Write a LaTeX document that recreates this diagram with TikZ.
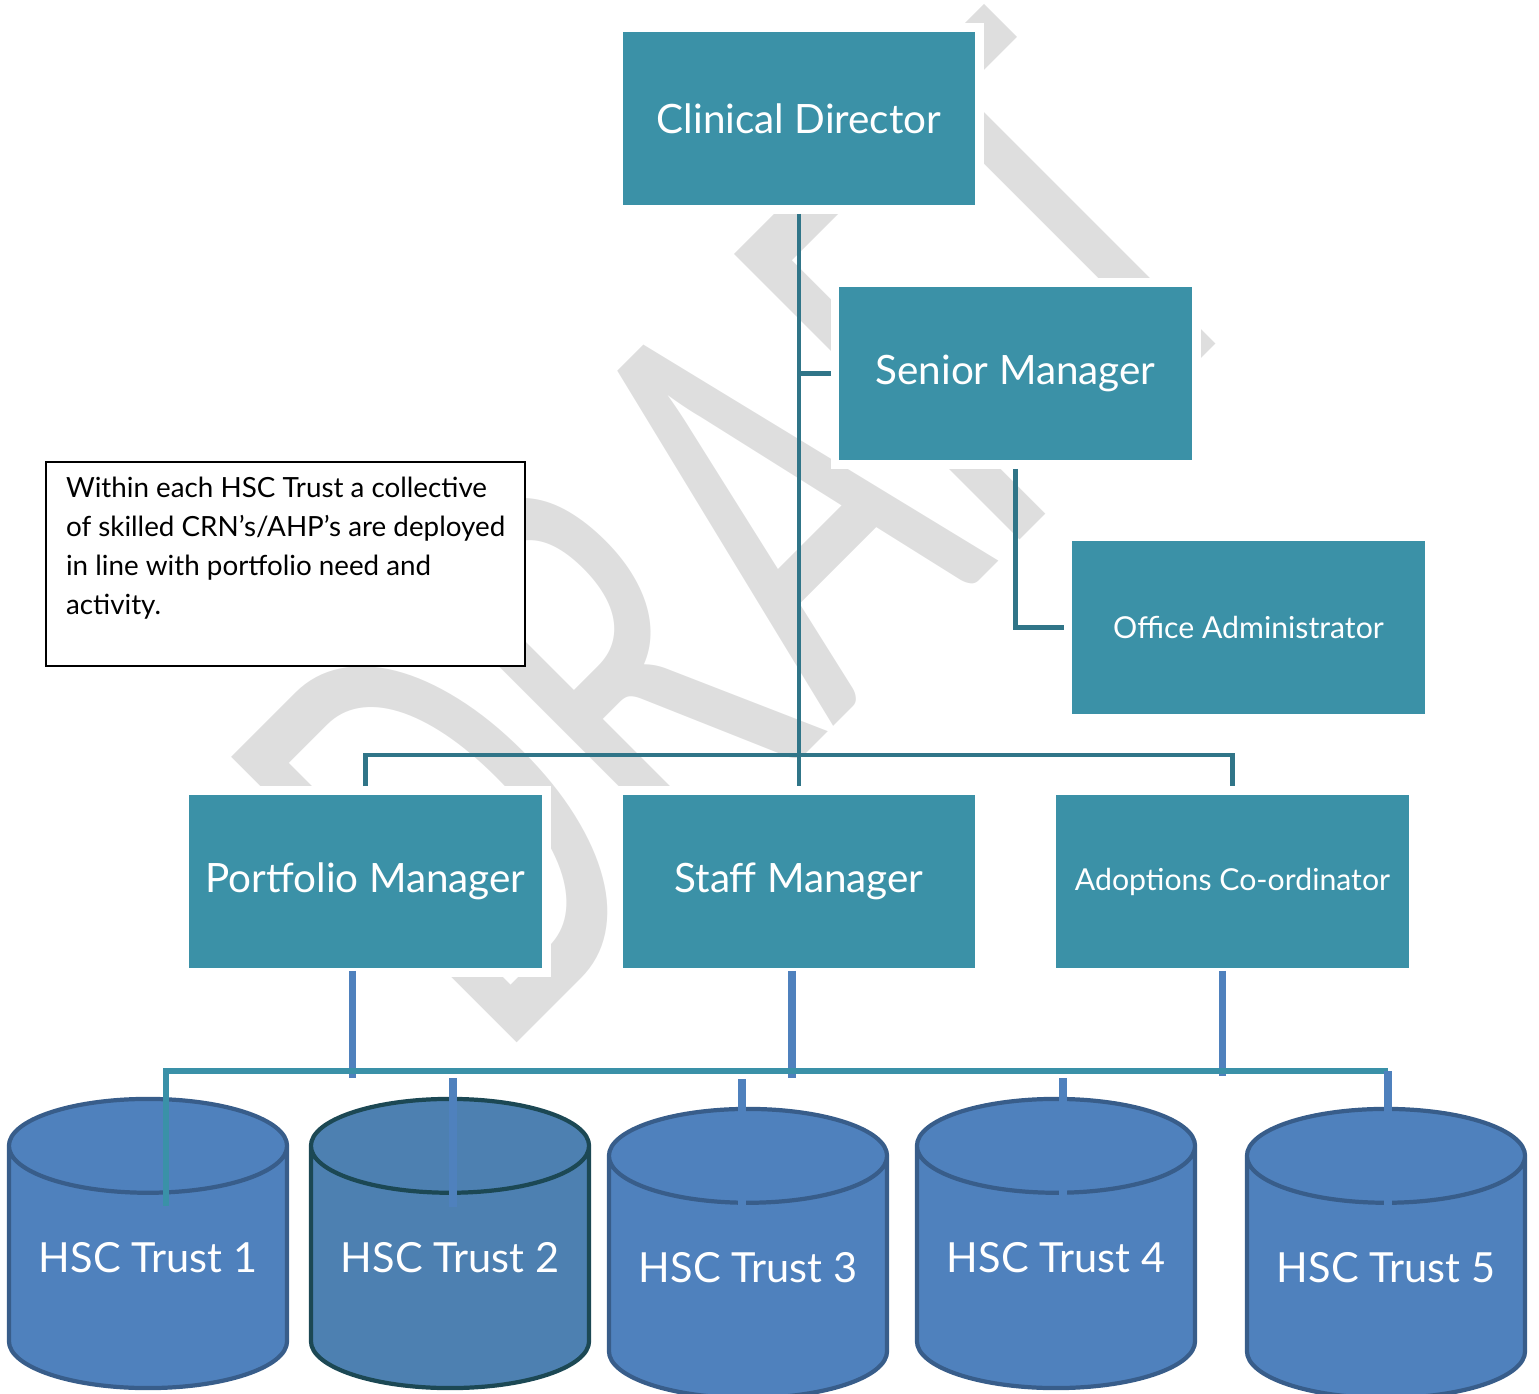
\documentclass[tikz,border=0pt]{standalone}
\usepackage{fontspec}
\setmainfont{Lato}
\newfontfamily\wmfont{Carlito}
\usetikzlibrary{shapes.geometric}

\definecolor{boxteal}{RGB}{59,145,167}
\definecolor{linkteal}{RGB}{48,117,136}
\definecolor{busteal}{RGB}{58,145,168}
\definecolor{trustblue}{RGB}{79,129,189}
\definecolor{trustedge}{RGB}{56,93,138}
\definecolor{trusttwo}{RGB}{77,128,177}
\definecolor{trusttwoedge}{RGB}{28,72,84}
\definecolor{wmgray}{RGB}{222,222,222}

\tikzset{
  role/.style={rectangle, fill=boxteal, draw=white, line width=2.5pt,
    minimum width=3.61cm, minimum height=1.82cm, text=white,
    font=\fontsize{11.5}{13}\selectfont},
  smallrole/.style={role, font=\fontsize{8.6}{10}\selectfont},
  trust/.style={cylinder, shape border rotate=90, aspect=0.43,
    draw=trustedge, line width=1.2pt, fill=trustblue,
    minimum width=2.78cm, minimum height=2.89cm, inner sep=0pt,
    anchor=shape center, text height=0.3cm, text depth=0.22cm,
    text=white, font=\fontsize{11.8}{13}\selectfont},
  notebox/.style={rectangle, draw=black, line width=0.6pt, fill=white,
    inner xsep=0.2cm, inner ysep=0.15cm,
    font=\fontsize{7.9}{11.1}\selectfont},
  watermark/.style={text=wmgray, inner sep=0pt,
    font=\wmfont\fontsize{179}{180}\selectfont},
  orglink/.style={draw=linkteal, line width=1.2pt},
  trustlink/.style={draw=trustblue, line width=2pt},
  buslink/.style={draw=busteal, line width=1.7pt}
}

\begin{document}
\begin{tikzpicture}[x=0.01cm, y=-0.01cm]
  \useasboundingbox (0,0) rectangle (1539,1394);

  % watermark behind everything
  \node[watermark, rotate=45, anchor=base west] (wm) at (497,1063)
    {\scalebox{0.65}[1]{DRAFT}};

  % management
  \node[role] (cd) at (799,118.5) {Clinical Director};
  \node[role] (sm) at (1015.5,373.5) {Senior Manager};
  \node[smallrole] (oa) at (1248.5,627.5) {Office Administrator};
  \node[role] (pm) at (365.5,881.5) {Portfolio Manager};
  \node[role] (sf) at (799,881.5) {Staff Manager};
  \node[smallrole] (ac) at (1232.5,881.5) {Adoptions Co-ordinator};

  \node[notebox, anchor=north west] (note) at (45,461)
    {\parbox[c][1.74cm][t]{4.39cm}{\raggedright
      Within each HSC Trust a collective\\
      of skilled CRN’s/AHP’s are deployed\\
      in line with portfolio need and\\
      activity.}};

  % trusts
  \node[trust] (t1) at (148,1243.5) {HSC Trust 1};
  \node[trust, fill=trusttwo, draw=trusttwoedge] (t2) at (450,1243.5) {HSC Trust 2};
  \node[trust] (t3) at (748,1253.5) {HSC Trust 3};
  \node[trust] (t4) at (1056,1243.5) {HSC Trust 4};
  \node[trust] (t5) at (1386,1253.5) {HSC Trust 5};

  \coordinate (bar) at (799,755);
  \coordinate (busR) at (1388,1071);

  % upper links
  \draw[orglink] (cd.south) -- (sf.north);
  \draw[orglink] (cd.south |- sm.west) -- (sm.west);
  \draw[orglink] (sm.south) |- (oa.west);
  \draw[orglink] (pm.north) -- (pm.north |- bar) -| (ac.north);

  % lower links
  \draw[trustlink] ([shift={(-13,-6)}]pm.south) -- ++(0,107);
  \draw[trustlink] ([shift={(-7,-6)}]sf.south) -- ++(0,107);
  \draw[trustlink] ([shift={(-10,-6)}]ac.south) -- ++(0,105);
  \draw[buslink] ([shift={(18,-38)}]t1.shape center) |- (busR);
  \draw[trustlink] ([shift={(3,-37)}]t2.shape center) -- ++(0,-129);
  \draw[trustlink] ([shift={(-6,-46)}]t3.shape center) -- ++(0,-129);
  \draw[trustlink] ([shift={(7,-37)}]t4.shape center) -- ++(0,-129);
  \draw[trustlink] (busR) -- ([shift={(2,-46)}]t5.shape center);
\end{tikzpicture}
\end{document}
